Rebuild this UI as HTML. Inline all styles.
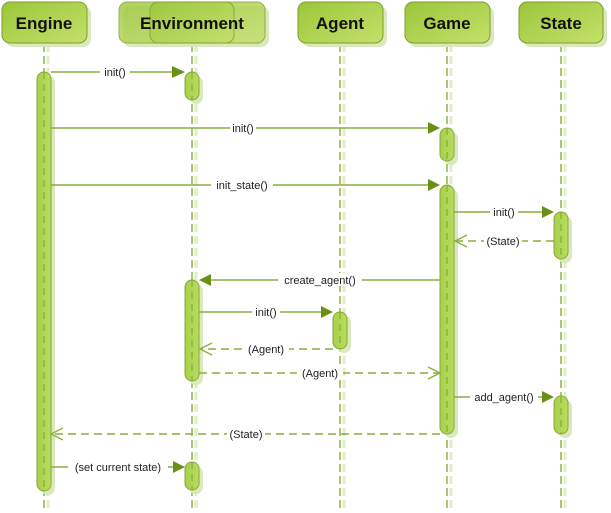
<!DOCTYPE html>
<html><head><style>body{margin:0;background:#fff}svg{display:block}</style></head><body>
<svg width="611" height="513" xmlns="http://www.w3.org/2000/svg" font-family="Liberation Sans, sans-serif">
<defs>
<linearGradient id="g" x1="0" y1="0" x2="1" y2="1"><stop offset="0" stop-color="#9cc63a"/><stop offset="1" stop-color="#c4e06a"/></linearGradient>
<linearGradient id="a" x1="0" y1="0" x2="1" y2="0"><stop offset="0" stop-color="#a8d04a"/><stop offset="1" stop-color="#b8dc60"/></linearGradient>
</defs>
<g stroke="#e2ecc8" stroke-width="3" stroke-dasharray="8,4" fill="none">
<line x1="48" y1="44" x2="48" y2="511"/><line x1="196" y1="44" x2="196" y2="511"/><line x1="344" y1="44" x2="344" y2="511"/><line x1="451" y1="44" x2="451" y2="511"/><line x1="565" y1="44" x2="565" y2="511"/>
</g>
<g stroke="#7ea82a" stroke-width="1.3" stroke-dasharray="8,4" fill="none">
<line x1="44" y1="44" x2="44" y2="511"/><line x1="192" y1="44" x2="192" y2="511"/><line x1="340" y1="44" x2="340" y2="511"/><line x1="447" y1="44" x2="447" y2="511"/><line x1="561" y1="44" x2="561" y2="511"/>
</g>
<g fill="#dbe8bd">
<rect x="6" y="6" width="85" height="41" rx="8"/><rect x="123" y="6" width="146" height="41" rx="8"/><rect x="302" y="6" width="85" height="41" rx="8"/><rect x="409" y="6" width="85" height="41" rx="8"/><rect x="523" y="6" width="84" height="41" rx="8"/>
</g>
<g fill="url(#g)" stroke="#7c9e2c">
<rect x="2" y="2" width="85" height="41" rx="8"/><rect x="119" y="2" width="146" height="41" rx="8" opacity="0.8"/><rect x="150" y="2" width="84" height="41" rx="8" opacity="0.8"/><rect x="298" y="2" width="85" height="41" rx="8"/><rect x="405" y="2" width="85" height="41" rx="8"/><rect x="519" y="2" width="84" height="41" rx="8"/>
</g>
<g font-weight="bold" font-size="17" text-anchor="middle" fill="#111">
<text x="44" y="29">Engine</text><text x="192" y="29">Environment</text><text x="340" y="29">Agent</text><text x="447" y="29">Game</text><text x="561" y="29">State</text>
</g>
<g fill="#dbe8bd">
<rect x="41" y="76" width="14" height="419" rx="7"/><rect x="189" y="76" width="14" height="28" rx="7"/><rect x="189" y="284" width="14" height="101" rx="7"/><rect x="189" y="466" width="14" height="28" rx="7"/><rect x="337" y="316" width="14" height="37" rx="7"/><rect x="444" y="132" width="14" height="33" rx="7"/><rect x="444" y="189" width="14" height="249" rx="7"/><rect x="558" y="216" width="14" height="47" rx="7"/><rect x="558" y="400" width="14" height="38" rx="7"/>
</g>
<g fill="url(#a)" stroke="#86a83a">
<rect x="37" y="72" width="14" height="419" rx="7"/><rect x="185" y="72" width="14" height="28" rx="7"/><rect x="185" y="280" width="14" height="101" rx="7"/><rect x="185" y="462" width="14" height="28" rx="7"/><rect x="333" y="312" width="14" height="37" rx="7"/><rect x="440" y="128" width="14" height="33" rx="7"/><rect x="440" y="185" width="14" height="249" rx="7"/><rect x="554" y="212" width="14" height="47" rx="7"/><rect x="554" y="396" width="14" height="38" rx="7"/>
</g>
<g stroke="#7ea82a" stroke-width="1.3" stroke-dasharray="7,5" fill="none" opacity="0.8">
<line x1="44" y1="72" x2="44" y2="491"/><line x1="192" y1="72" x2="192" y2="100"/><line x1="192" y1="280" x2="192" y2="381"/><line x1="192" y1="462" x2="192" y2="490"/><line x1="340" y1="312" x2="340" y2="349"/><line x1="447" y1="128" x2="447" y2="161"/><line x1="447" y1="185" x2="447" y2="434"/><line x1="561" y1="212" x2="561" y2="259"/><line x1="561" y1="396" x2="561" y2="434"/>
</g>
<g stroke="#8aae3e" stroke-width="1.5">
<line x1="51" y1="72" x2="172" y2="72"/><line x1="51" y1="128" x2="428" y2="128"/><line x1="51" y1="185" x2="428" y2="185"/><line x1="454" y1="212" x2="542" y2="212"/><line x1="440" y1="280" x2="210" y2="280"/><line x1="199" y1="312" x2="321" y2="312"/><line x1="454" y1="397" x2="542" y2="397"/><line x1="51" y1="467" x2="173" y2="467"/>
</g>
<g fill="#6b9018">
<polygon points="185,72 172,66 172,78"/><polygon points="440,128 428,122 428,134"/><polygon points="440,185 428,179 428,191"/><polygon points="554,212 542,206 542,218"/><polygon points="199,280 211,274 211,286"/><polygon points="333,312 321,306 321,318"/><polygon points="554,397 542,391 542,403"/><polygon points="185,467 173,461 173,473"/>
</g>
<g stroke="#8aae3e" stroke-width="1.5" stroke-dasharray="8,5" fill="none">
<line x1="554" y1="241" x2="456" y2="241"/><line x1="333" y1="349" x2="201" y2="349"/><line x1="199" y1="373" x2="438" y2="373"/><line x1="440" y1="434" x2="53" y2="434"/>
</g>
<g stroke="#8aae3e" stroke-width="1.3" fill="none">
<polyline points="467,235 455,241 467,247"/><polyline points="212,343 200,349 212,355"/><polyline points="428,367 440,373 428,379"/><polyline points="63,428 51,434 63,440"/>
</g>
<g font-size="11" text-anchor="middle" fill="#222">
<g fill="#fff"><rect x="100" y="65" width="30" height="13"/><rect x="230" y="121" width="26" height="13"/><rect x="211" y="178" width="62" height="13"/><rect x="490" y="205" width="28" height="13"/><rect x="484" y="234" width="38" height="13"/><rect x="278" y="273" width="84" height="13"/><rect x="252" y="305" width="28" height="13"/><rect x="243" y="342" width="46" height="13"/><rect x="297" y="366" width="46" height="13"/><rect x="470" y="390" width="68" height="13"/><rect x="227" y="427" width="38" height="13"/><rect x="68" y="460" width="100" height="13"/></g>
<text x="115" y="76">init()</text><text x="243" y="132">init()</text><text x="242" y="189">init_state()</text><text x="504" y="216">init()</text><text x="503" y="245">(State)</text><text x="320" y="284">create_agent()</text><text x="266" y="316">init()</text><text x="266" y="353">(Agent)</text><text x="320" y="377">(Agent)</text><text x="504" y="401">add_agent()</text><text x="246" y="438">(State)</text><text x="118" y="471">(set current state)</text>
</g>
</svg>
</body></html>
